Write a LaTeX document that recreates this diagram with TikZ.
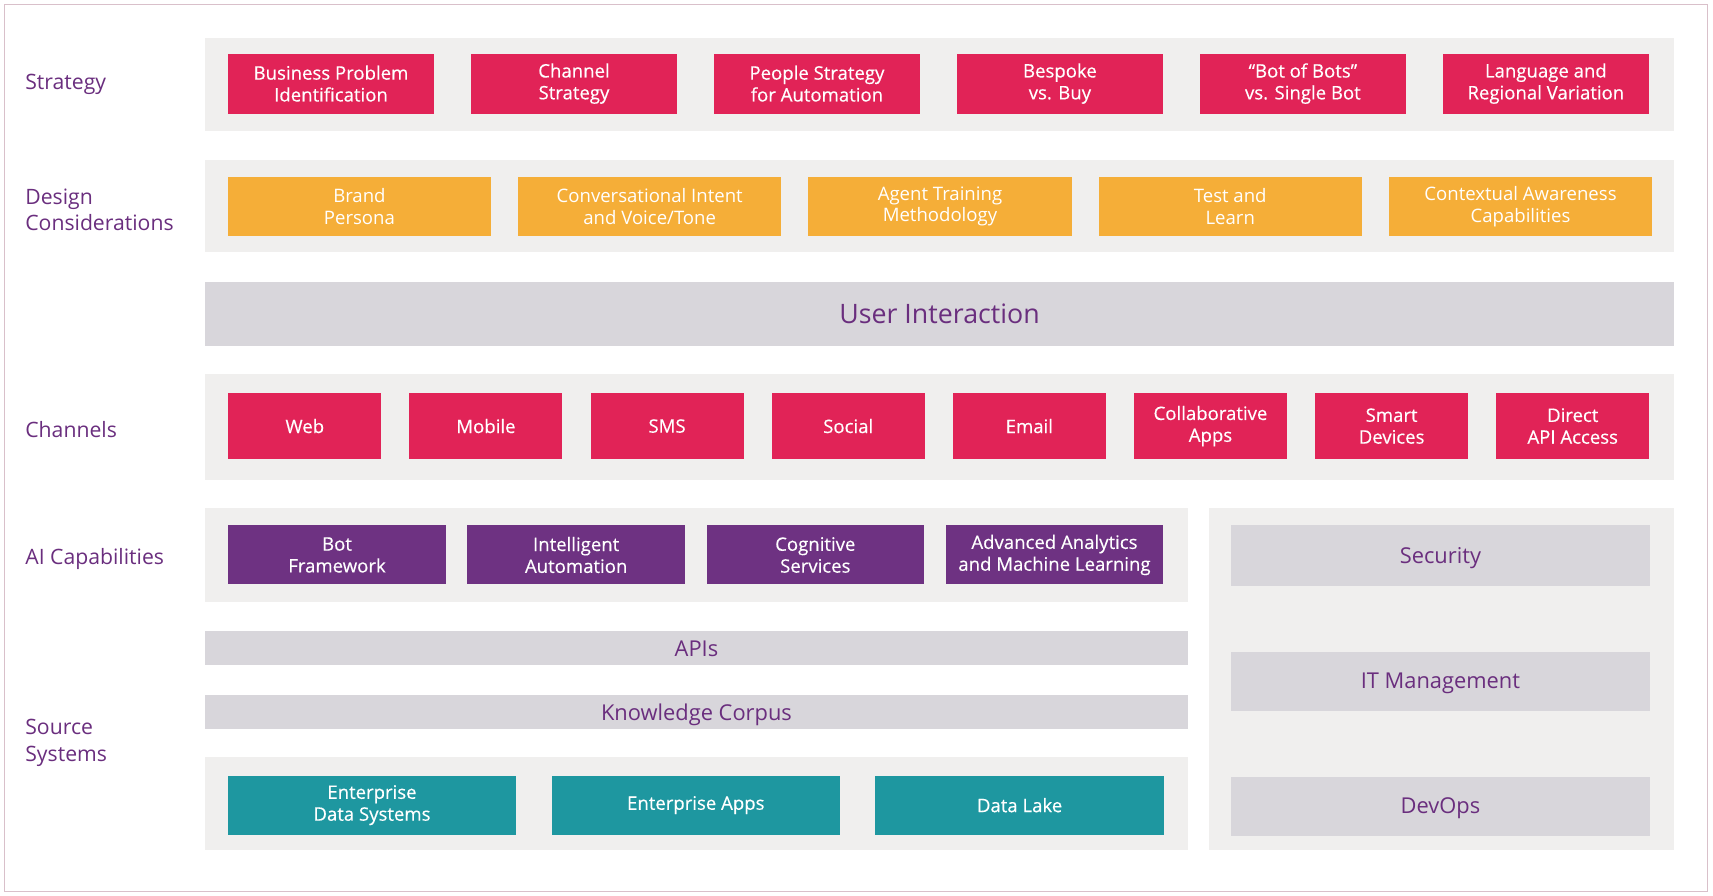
\documentclass[tikz,border=0pt]{standalone}
\usepackage{fontspec}
\setmainfont{Open Sans}
\newfontfamily\boxfont[FakeBold=0.35,Ligatures=TeX]{Open Sans}
\usetikzlibrary{positioning}
\definecolor{crimson}{HTML}{E12357}
\definecolor{amber}{HTML}{F5AE38}
\definecolor{grape}{HTML}{6E3282}
\definecolor{lagoon}{HTML}{1E97A0}
\definecolor{plum}{HTML}{6A2E7E}
\definecolor{bandgray}{HTML}{F0EFEE}
\definecolor{bargray}{HTML}{D8D6DB}
\definecolor{framepink}{HTML}{D9C0CA}
\begin{document}
\begin{tikzpicture}[x=1pt,y=-1pt]
\tikzset{cel/.style={minimum height=55pt,inner sep=0pt,text=white,align=center,font=\boxfont\fontsize{17}{20}\selectfont},
band/.style={fill=bandgray,minimum width=1344pt,minimum height=85pt,inner sep=0pt},
strat/.style={cel,fill=crimson,minimum width=188pt},
dsgn/.style={cel,fill=amber,minimum width=241pt,minimum height=54pt,font=\fontsize{17}{20}\selectfont},
chan/.style={cel,fill=crimson,minimum width=140pt,minimum height=60pt},
aicap/.style={cel,fill=grape,minimum width=199pt,minimum height=54pt},
srcsys/.style={cel,fill=lagoon,minimum width=264pt,minimum height=54pt},
bar/.style={fill=bargray,text=plum,inner sep=0pt,text depth=0pt,font=\fontsize{20}{24}\selectfont},
lbl/.style={anchor=west,text=plum,align=left,inner sep=0pt,font=\fontsize{19.4}{24}\selectfont},
}
\useasboundingbox (0,0) rectangle (1568,820);
\draw[framepink,line width=1.2pt] (4,4) rectangle (1563,816);

% row labels
\node[lbl] (lstrat) at (23,77) {Strategy};
\node[lbl] (ldsgn) at (23,192) {Design\\Considerations};
\node[lbl] (lchan) at (23,393) {Channels};
\node[lbl] (lai) at (23,512) {AI Capabilities};
\node[lbl] (lsrc) at (23,680) {Source\\Systems};

% strategy
\node[band] (bstrat) at (860,77.5) {};
\node[strat] (strat1) at (303,76.5) {Business Problem\\Identification};
\node[strat] (strat2) [right=34pt of strat1] {Channel\\Strategy};
\node[strat] (strat3) [right=34pt of strat2] {People Strategy\\for Automation};
\node[strat] (strat4) [right=34pt of strat3] {Bespoke\\vs. Buy};
\node[strat] (strat5) [right=34pt of strat4] {“Bot of Bots”\\vs. Single Bot};
\node[strat] (strat6) [right=34pt of strat5] {Language and\\Regional Variation};

% design considerations
\node[band] (bdsgn) at (860,188.5) {};
\node[dsgn] (dsgn1) at (329,189) {Brand\\Persona};
\node[dsgn] (dsgn2) [right=24.3pt of dsgn1] {Conversational Intent\\and Voice/Tone};
\node[dsgn] (dsgn3) [right=24.3pt of dsgn2] {Agent Training\\Methodology};
\node[dsgn] (dsgn4) [right=24.3pt of dsgn3] {Test and\\Learn};
\node[dsgn] (dsgn5) [right=24.3pt of dsgn4] {Contextual Awareness\\Capabilities};

% user interaction
\node[bar,minimum width=1344pt,minimum height=59pt,font=\fontsize{24.5}{28}\selectfont] (uix) at (860,287.5) {User Interaction};

% channels
\node[band,minimum height=97pt] (bchan) at (860,390.5) {};
\node[chan] (chan1) at (279,390) {Web};
\node[chan] (chan2) [right=25.4pt of chan1] {Mobile};
\node[chan] (chan3) [right=25.4pt of chan2] {SMS};
\node[chan] (chan4) [right=25.4pt of chan3] {Social};
\node[chan] (chan5) [right=25.4pt of chan4] {Email};
\node[chan] (chan6) [right=25.4pt of chan5] {Collaborative\\Apps};
\node[chan] (chan7) [right=25.4pt of chan6] {Smart\\Devices};
\node[chan] (chan8) [right=25.4pt of chan7] {Direct\\API Access};

% ai capabilities
\node[band,minimum width=899pt,minimum height=86pt] (bai) at (637.5,508) {};
\node[aicap] (ai1) at (308.5,508) {Bot\\Framework};
\node[aicap] (ai2) [right=19.5pt of ai1] {Intelligent\\Automation};
\node[aicap] (ai3) [right=19.5pt of ai2] {Cognitive\\Services};
\node[aicap] (ai4) [right=19.5pt of ai3] {Advanced Analytics\\and Machine Learning};

% apis and knowledge
\node[bar,minimum width=899pt,minimum height=31pt] (apis) at (637.5,593.5) {APIs};
\node[bar,minimum width=899pt,minimum height=31pt] (corpus) at (637.5,651.5) {Knowledge Corpus};

% source systems
\node[band,minimum width=899pt] (bsrc) at (637.5,735.5) {};
\node[srcsys] (src1) at (340.5,737) {Enterprise\\Data Systems};
\node[srcsys] (src2) [right=32pt of src1] {Enterprise Apps};
\node[srcsys] (src3) [right=32pt of src2] {Data Lake};

% operations
\node[band,minimum width=425pt,minimum height=313pt] (bops) at (1319.5,621.5) {};
\node[bar,minimum width=383pt,minimum height=55pt] (ops1) at (1318.5,508.5) {Security};
\node[bar,minimum width=383pt,minimum height=54pt] (ops2) [below=60pt of ops1] {IT Management};
\node[bar,minimum width=383pt,minimum height=54pt] (ops3) [below=60pt of ops2] {DevOps};

\end{tikzpicture}
\end{document}
